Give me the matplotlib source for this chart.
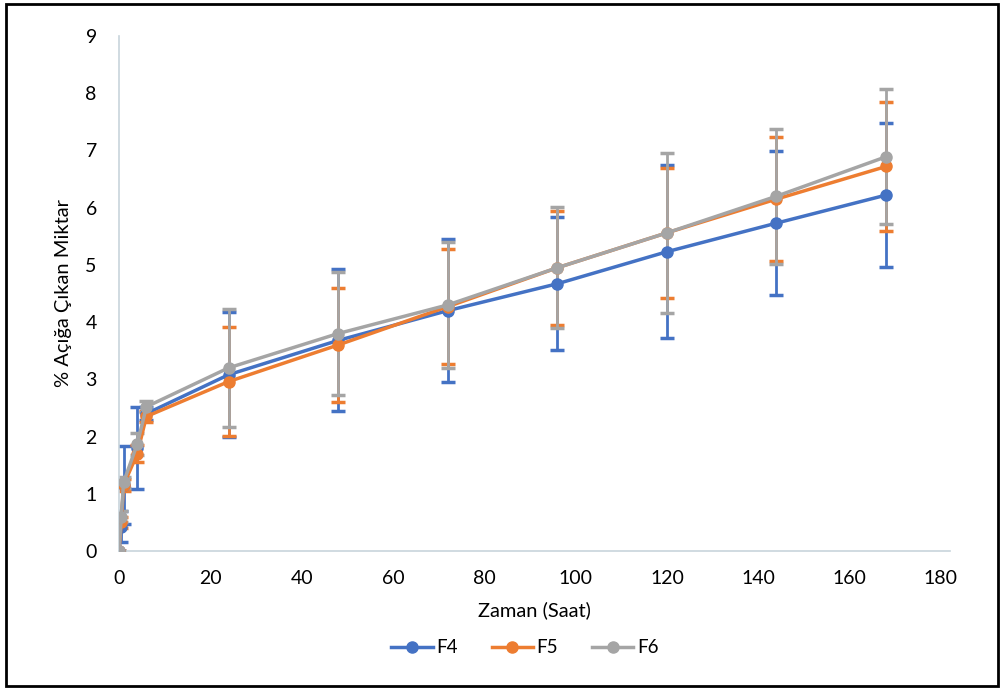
import numpy as np
import matplotlib
matplotlib.use('Agg')
import matplotlib.pyplot as plt
from matplotlib.patches import Rectangle

plt.rcParams['font.family'] = ['Lato', 'DejaVu Sans']

# ── Data ──────────────────────────────────────────────────────────────────────
hours = [0, 0.5, 1, 4, 6, 24, 48, 72, 96, 120, 144, 168]

f4_mean = [0, 0.42, 1.15, 1.80, 2.40, 3.08, 3.68, 4.20, 4.67, 5.23, 5.73, 6.22]
f4_err  = [0, 0.27, 0.68, 0.72, 0.12, 1.09, 1.24, 1.25, 1.16, 1.51, 1.26, 1.26]

f5_mean = [0, 0.50, 1.15, 1.70, 2.35, 2.96, 3.60, 4.27, 4.95, 5.56, 6.15, 6.72]
f5_err  = [0, 0.10, 0.10, 0.15, 0.10, 0.95, 1.00, 1.01, 1.00, 1.14, 1.09, 1.12]

f6_mean = [0, 0.60, 1.20, 1.87, 2.52, 3.20, 3.80, 4.30, 4.95, 5.56, 6.20, 6.89]
f6_err  = [0, 0.10, 0.10, 0.20, 0.10, 1.03, 1.07, 1.10, 1.06, 1.40, 1.18, 1.18]

series = [('F4', f4_mean, f4_err, '#4472C4'),
          ('F5', f5_mean, f5_err, '#ED7D31'),
          ('F6', f6_mean, f6_err, '#A5A5A5')]

# ── Plot ──────────────────────────────────────────────────────────────────────
fig = plt.figure(figsize=(10, 6.93), dpi=100)
ax = fig.add_axes([0.119, 0.205, 0.831, 0.743])

handles = []
for name, m, e, c in series:
    ax.errorbar(hours, m, yerr=e, fmt='none', ecolor=c, elinewidth=2.0,
                capsize=5, capthick=2.5, zorder=2)
for name, m, e, c in series:
    h, = ax.plot(hours, m, color=c, linewidth=2.5, marker='o', markersize=8,
                 label=name, zorder=3)
    handles.append(h)

ax.set_xlim(0, 182)
ax.set_ylim(0, 9)
ax.set_xticks(np.arange(0, 181, 20))
ax.set_yticks(np.arange(0, 10, 1))
ax.tick_params(axis='x', length=0, labelsize=14, pad=14)
ax.tick_params(axis='y', length=0, labelsize=14, pad=16)
for side in ['top', 'right']:
    ax.spines[side].set_visible(False)
for side in ['left', 'bottom']:
    ax.spines[side].set_color('#C8D4DC')
    ax.spines[side].set_linewidth(1.2)

ax.set_xlabel('Zaman (Saat)', fontsize=14.5, labelpad=10)
ax.set_ylabel('% Açığa Çıkan Miktar', fontsize=14.5, labelpad=10)

fig.legend(handles=handles, loc='center', bbox_to_anchor=(0.525, 0.065),
           ncol=3, frameon=False, fontsize=13.5, handlelength=2.2,
           columnspacing=1.8, handletextpad=0.2)

# black frame around the whole chart
fig.patches.append(Rectangle((0.006, 0.01), 0.992, 0.984, transform=fig.transFigure,
                             fill=False, edgecolor='black', linewidth=2))

fig.savefig('out.png', dpi=100)
plt.close(fig)
